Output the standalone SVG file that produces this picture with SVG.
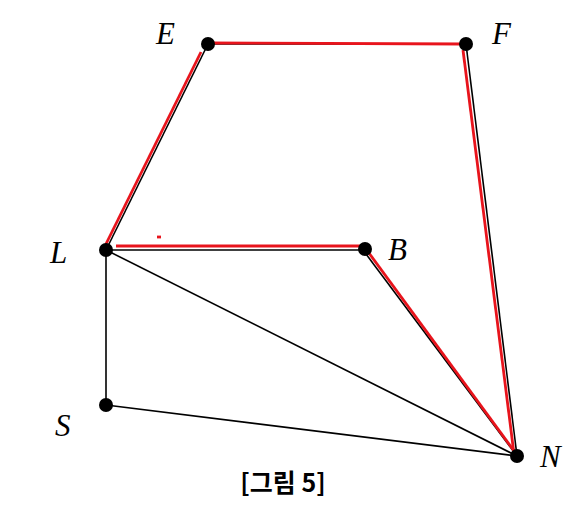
<svg xmlns="http://www.w3.org/2000/svg" width="577" height="508" viewBox="0 0 577 508">
<style>
.edge{stroke:#000;stroke-width:1.6;fill:none}
.red{stroke:#e8141c;stroke-width:2.8;fill:none}
.dot{fill:#000}
.lbl{font-family:"Liberation Serif",serif;font-style:italic;font-size:31px;fill:#000}
.cap{font-family:"Noto Sans CJK KR","Noto Sans",sans-serif;font-weight:bold;font-size:25px;fill:#000}
</style>
<rect width="577" height="508" fill="#fff"/>
<g id="connectors">
<line class="edge" x1="208" y1="44" x2="106" y2="250"/>
<line class="edge" x1="208" y1="44" x2="466" y2="44"/>
<line class="edge" x1="466" y1="44" x2="517" y2="456"/>
<line class="edge" x1="106" y1="250" x2="365" y2="250"/>
<line class="edge" x1="363" y1="250" x2="517" y2="456"/>
<line class="edge" x1="106" y1="250" x2="517" y2="456"/>
<line class="edge" x1="106" y1="250" x2="106" y2="405"/>
<line class="edge" x1="106" y1="405" x2="517" y2="456"/>
<line class="red" x1="201" y1="52" x2="104" y2="248"/>
<line class="red" x1="208" y1="43" x2="464" y2="44"/>
<line class="red" x1="463" y1="50" x2="514" y2="454"/>
<line class="red" x1="116" y1="246" x2="362" y2="246"/>
<line class="red" x1="366" y1="249" x2="517" y2="455"/>
<line class="red" x1="157" y1="237" x2="161" y2="237"/>
</g>
<g id="E"><circle class="dot" cx="208" cy="44" r="7"/><text class="lbl" x="156" y="44">E</text></g>
<g id="F"><circle class="dot" cx="466" cy="44" r="7"/><text class="lbl" x="492" y="44">F</text></g>
<g id="L"><circle class="dot" cx="106" cy="250" r="7"/><text class="lbl" x="50" y="263">L</text></g>
<g id="B"><circle class="dot" cx="365" cy="249" r="7"/><text class="lbl" x="388" y="260">B</text></g>
<g id="S"><circle class="dot" cx="106" cy="405" r="7"/><text class="lbl" x="55" y="436">S</text></g>
<g id="N"><circle class="dot" cx="517" cy="456" r="7"/><text class="lbl" x="540" y="467">N</text></g>
<text class="cap" x="283" y="492" text-anchor="middle">[그림 5]</text>
</svg>
